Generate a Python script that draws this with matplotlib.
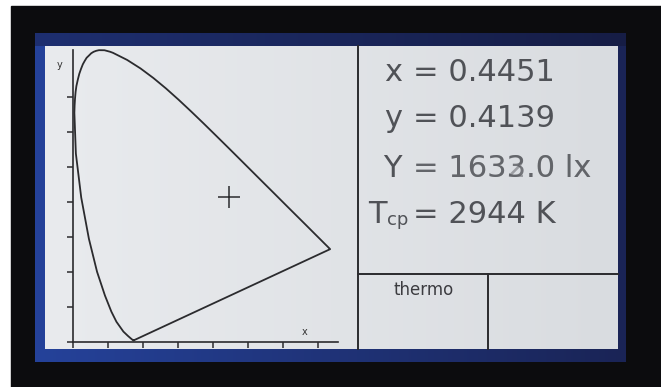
import matplotlib
matplotlib.use('Agg')
import matplotlib.pyplot as plt
import numpy as np
from matplotlib.patches import Rectangle
from matplotlib.colors import to_rgb

# CIE 1931 spectral locus (x, y), 380..700 nm (denser around the green peak)
locus_x = [0.1741, 0.1733, 0.1714, 0.1644, 0.1566, 0.1440, 0.1241, 0.1096, 0.0913,
           0.0687, 0.0454, 0.0235, 0.0082, 0.0039, 0.0046, 0.0058, 0.0074, 0.0097,
           0.0139, 0.0180, 0.0228, 0.0281, 0.0334, 0.0389, 0.0456, 0.0520, 0.0590,
           0.0664, 0.0743, 0.0899, 0.1062, 0.1142,
           0.1547, 0.1929, 0.2296, 0.2658, 0.3016, 0.3373, 0.3731, 0.4087, 0.4441,
           0.4788, 0.5125, 0.5448, 0.5752, 0.6029, 0.6270, 0.6658, 0.6915, 0.7079,
           0.7190, 0.7260, 0.7334, 0.7347]
locus_y = [0.0050, 0.0048, 0.0051, 0.0109, 0.0177, 0.0297, 0.0578, 0.0868, 0.1327,
           0.2007, 0.2950, 0.4127, 0.5384, 0.6548, 0.6759, 0.6959, 0.7144, 0.7313,
           0.7502, 0.7663, 0.7800, 0.7934, 0.8030, 0.8120, 0.8185, 0.8249, 0.8292,
           0.8320, 0.8338, 0.8336, 0.8292, 0.8262,
           0.8059, 0.7816, 0.7543, 0.7243, 0.6923, 0.6589, 0.6245, 0.5896, 0.5547,
           0.5202, 0.4866, 0.4544, 0.4242, 0.3965, 0.3725, 0.3340, 0.3083, 0.2920,
           0.2809, 0.2740, 0.2666, 0.2653]

meas_x = 0.4451
meas_y = 0.4139
lux = '1633.0'
lux_ghost = '1632.0'
tcp = '2944'
ticks = [0.0, 0.1, 0.2, 0.3, 0.4, 0.5, 0.6, 0.7]

W, H = 661, 387
fig = plt.figure(figsize=(W / 100, H / 100), dpi=100, facecolor='white')

bg = fig.add_axes([0, 0, 1, 1])
bg.axis('off')

def grad(c1, c2, n=200):
    a = np.array(to_rgb(c1))
    b = np.array(to_rgb(c2))
    t = np.linspace(0, 1, n)[None, :, None]
    return a + (b - a) * t

# black surround, blue bezel, screen
bg.add_patch(Rectangle((11, 6), W - 11, H - 6, color='#0c0c0e', zorder=0))
bg.imshow(grad('#25429a', '#1a2456'), extent=(35, 626, 362, 33), aspect='auto', zorder=1)
# top strip of the bezel is darker
bg.imshow(grad('#1e2f70', '#161d45'), extent=(35, 626, 46, 33), aspect='auto', zorder=1)
bg.imshow(grad('#e9ebee', '#d9dce0'), extent=(45, 618, 349, 46), aspect='auto', zorder=2)

lc = '#2b2b2e'
bg.plot([358, 358], [46, 349], color=lc, lw=1.4, zorder=3)
bg.plot([358, 618], [274, 274], color=lc, lw=1.4, zorder=3)
bg.plot([488, 488], [274, 349], color=lc, lw=1.4, zorder=3)

tc = '#505257'
fs = 22
bg.text(402, 81, 'x', fontsize=fs, color=tc, ha='right', va='baseline', zorder=4)
bg.text(402, 127, 'y', fontsize=fs, color=tc, ha='right', va='baseline', zorder=4)
bg.text(402, 177, 'Y', fontsize=fs, color=tc, ha='right', va='baseline', zorder=4)
bg.text(368, 223, 'T', fontsize=fs, color=tc, ha='left', va='baseline', zorder=4)
bg.text(387, 225, 'cp', fontsize=13, color=tc, ha='left', va='baseline', zorder=4)

bg.text(413, 81, '= %.4f' % meas_x, fontsize=fs, color=tc, va='baseline', zorder=4)
bg.text(413, 127, '= %.4f' % meas_y, fontsize=fs, color=tc, va='baseline', zorder=4)
bg.text(413, 177, '= ' + lux_ghost + ' lx', fontsize=fs, color=tc, va='baseline',
        alpha=0.45, zorder=4)
bg.text(413, 177, '= ' + lux + ' lx', fontsize=fs, color=tc, va='baseline',
        alpha=0.75, zorder=4)
bg.text(413, 223, '= ' + tcp + ' K', fontsize=fs, color=tc, va='baseline', zorder=4)

bg.text(424, 295, 'thermo', fontsize=12, color='#3c3c40', ha='center',
        va='baseline', zorder=4)

# small axis letters
bg.text(60, 68, 'y', fontsize=7, color='#333', ha='center', va='baseline', zorder=4)
bg.text(305, 335, 'x', fontsize=7, color='#333', ha='center', va='baseline', zorder=4)

bg.set_xlim(0, W)
bg.set_ylim(H, 0)

# chromaticity diagram, origin at pixel (73, 342), 350 px per unit
ox, oy, s = 73, 342, 350
L, R, T, B = 46, 357, 46, 349
ax = fig.add_axes([L / W, 1 - B / H, (R - L) / W, (B - T) / H])
ax.patch.set_alpha(0)
ax.set_xlim((L - ox) / s, (R - ox) / s)
ax.set_ylim((oy - B) / s, (oy - T) / s)

px = locus_x + [locus_x[0]]
py = locus_y + [locus_y[0]]
ax.plot(px, py, color=lc, lw=1.3)
ax.plot([meas_x], [meas_y], marker='+', ms=16, mew=1.1, color=lc)

for k in ['top', 'right']:
    ax.spines[k].set_visible(False)
ax.spines['left'].set_position(('data', 0))
ax.spines['bottom'].set_position(('data', 0))
ax.spines['left'].set_bounds(0, 0.834)
ax.spines['bottom'].set_bounds(0, 0.757)
for k in ['left', 'bottom']:
    ax.spines[k].set_color(lc)
    ax.spines[k].set_linewidth(1.2)
ax.set_xticks(ticks)
ax.set_yticks(ticks)
ax.set_xticklabels([])
ax.set_yticklabels([])
ax.tick_params(direction='out', length=4, width=1.1, color=lc)

fig.savefig('out.png', dpi=100, facecolor=fig.get_facecolor())
